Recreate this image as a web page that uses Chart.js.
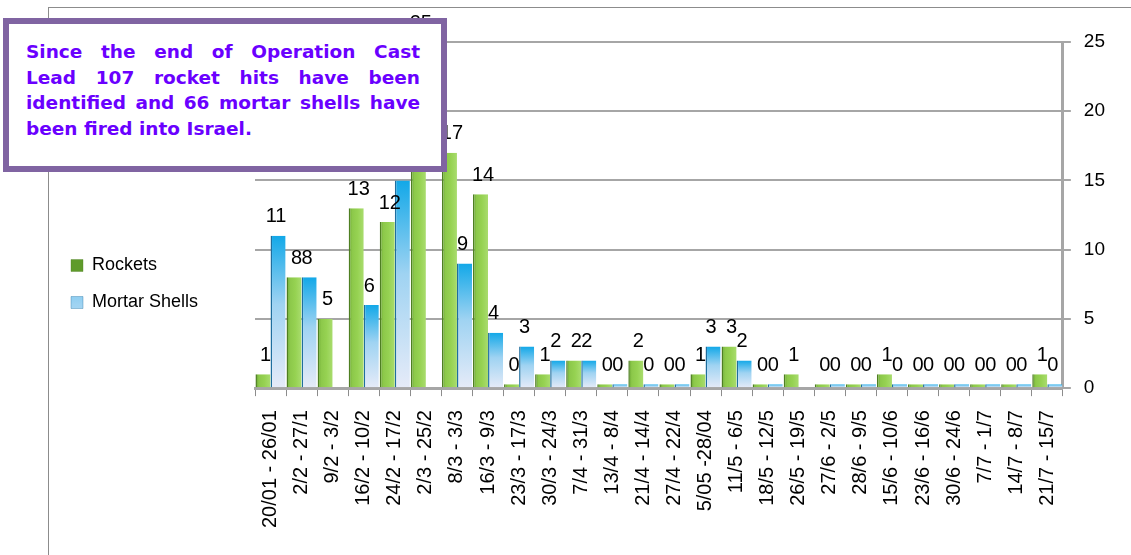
<!DOCTYPE html>
<html lang="en">
<head>
  <meta charset="UTF-8" />
  <title>Rockets and Mortar Shells</title>
  <script src="https://cdn.jsdelivr.net/npm/chart.js"></script>
  <style>
    body { margin: 0; background: #fff; }
    .wrap { position: relative; width: 1131px; height: 555px; overflow: hidden; }
    .frame { position: absolute; left: 48px; top: 7px; right: -2px; bottom: -2px;
             border-top: 1px solid #8c8c8c; border-left: 1px solid #8c8c8c; }
    .grafico { position: absolute; left: 0; top: 0; width: 1131px; height: 555px; }
    .nota { position: absolute; left: 3px; top: 18px; width: 444px; height: 154px; box-sizing: border-box;
            border: 6px solid #8064a2; background: #fff; padding: 15px 21px 0 17px;
            font-family: "DejaVu Sans", Verdana, sans-serif; font-weight: bold; font-size: 18.5px;
            line-height: 25.6px; color: #6a00ff; }
    .nota div { text-align: justify; text-align-last: justify; white-space: nowrap; }
    .nota div.ultima { text-align-last: left; }
  </style>
</head>
<body>
  <div class="wrap">
    <div class="frame"></div>
    <div class="grafico"><canvas id="graficoAtaques"></canvas></div>
    <div class="nota">
      <div>Since the end of Operation Cast</div>
      <div>Lead 107 rocket hits have been</div>
      <div>identified and 66 mortar shells have</div>
      <div class="ultima">been fired into Israel.</div>
    </div>
  </div>

<script>
  const semanas = [
    "20/01 - 26/01", "2/2 - 27/1", "9/2 - 3/2", "16/2 - 10/2", "24/2 - 17/2", "2/3 - 25/2",
    "8/3 - 3/3", "16/3 - 9/3", "23/3 - 17/3", "30/3 - 24/3", "7/4 - 31/3", "13/4 - 8/4",
    "21/4 - 14/4", "27/4 - 22/4", "5/05 -28/04", "11/5 - 6/5", "18/5 - 12/5", "26/5 - 19/5",
    "27/6 - 2/5", "28/6 - 9/5", "15/6 - 10/6", "23/6 - 16/6", "30/6 - 24/6", "7/7 - 1/7",
    "14/7 - 8/7", "21/7 - 15/7"
  ];
  const rockets = [1, 8, 5, 13, 12, 25, 17, 14, 0, 1, 2, 0, 2, 0, 1, 3, 0, 1, 0, 0, 1, 0, 0, 0, 0, 1];
  const mortars = [11, 8, null, 6, 15, null, 9, 4, 3, 2, 2, 0, 0, 0, 3, 2, 0, null, 0, 0, 0, 0, 0, 0, 0, 0];
  const yTicks = [0, 5, 10, 15, 20, 25];

  const fonte = "'Liberation Sans', Arial, sans-serif";

  // gradiente de cada barra, calculado pelas escalas
  function corBarra(context) {
    const chart = context.chart;
    const x = chart.scales.x, y = chart.scales.y;
    const verde = context.datasetIndex === 0;
    const plano = verde ? "#92d050" : "#62c4ef";
    if (!x || !y || context.dataIndex === undefined || context.raw == null) return plano;
    const cx = x.getPixelForValue(context.dataIndex);
    const meia = (x.getPixelForValue(1) - x.getPixelForValue(0)) / 2;
    const base = y.getPixelForValue(0);
    const topo = Math.min(y.getPixelForValue(context.raw), base - 4);
    if (![cx, meia, base, topo].every(Number.isFinite) || meia <= 0) return plano;
    const c = chart.ctx;
    if (verde) {
      const g = c.createLinearGradient(cx - meia, 0, cx, 0);
      g.addColorStop(0, "#5f9b2a");
      g.addColorStop(0.25, "#8cc84a");
      g.addColorStop(0.6, "#96d252");
      g.addColorStop(1, "#a9dc6e");
      return g;
    }
    const g = c.createLinearGradient(0, topo, 0, base);
    g.addColorStop(0, "#12a8e8");
    g.addColorStop(0.45, "#9fd3f2");
    g.addColorStop(1, "#e6ebf8");
    return g;
  }

  const rotulos = {
    id: "rotulos",
    afterDatasetsDraw(chart) {
      const ctx = chart.ctx;
      ctx.save();
      ctx.font = "20px " + fonte;
      ctx.fillStyle = "#000";
      ctx.textAlign = "center";
      ctx.textBaseline = "middle";
      chart.data.datasets.forEach((ds, i) => {
        const meta = chart.getDatasetMeta(i);
        const desvio = i === 0 ? 2.5 : -2;
        meta.data.forEach((barra, j) => {
          if (ds.data[j] == null) return;
          ctx.fillText(String(ds.data[j]), barra.x + desvio, barra.y - 19);
        });
      });
      ctx.restore();
    }
  };

  // legenda ocupa a faixa da esquerda inteira
  const legendaLarga = {
    id: "legendaLarga",
    beforeInit(chart) {
      const fitOriginal = chart.legend.fit;
      chart.legend.fit = function () {
        fitOriginal.call(this);
        this.width = 203;
      };
    },
    afterLayout(chart) {
      chart.legend.top -= 8;
      chart.legend.bottom -= 8;
    }
  };

  new Chart(document.getElementById("graficoAtaques"), {
    type: "bar",
    data: {
      labels: semanas,
      datasets: [
        { label: "Rockets", data: rockets, backgroundColor: corBarra,
          borderColor: "#4e7f22", borderWidth: { left: 1.5, top: 0, right: 0, bottom: 0 } },
        { label: "Mortar Shells", data: mortars, backgroundColor: corBarra,
          borderColor: "#1f6e9e", borderWidth: { left: 1.5, top: 0, right: 0, bottom: 0 } }
      ]
    },
    options: {
      responsive: true,
      maintainAspectRatio: false,
      animation: false,
      layout: { padding: { left: 52, top: 42, right: 13, bottom: 13 } },
      datasets: { bar: { categoryPercentage: 0.97, barPercentage: 1, minBarLength: 4, borderSkipped: false } },
      plugins: {
        legend: {
          position: "left",
          align: "center",
          labels: { boxWidth: 12, boxHeight: 12, padding: 19, color: "#000", font: { size: 18, family: fonte } }
        },
        tooltip: { enabled: false }
      },
      scales: {
        x: {
          grid: { display: true, drawOnChartArea: false, offset: true, tickLength: 8, color: "#8c8c8c", lineWidth: 1 },
          border: { display: true, color: "#a6a6a6", width: 3 },
          ticks: { autoSkip: false, minRotation: 90, maxRotation: 90, padding: 14, color: "#000",
                   font: { size: 20, family: fonte } }
        },
        y: {
          position: "right",
          min: 0,
          max: yTicks[yTicks.length - 1],
          afterBuildTicks: axis => { axis.ticks = yTicks.map(v => ({ value: v })); },
          grid: { color: "#a6a6a6", lineWidth: 2, tickLength: 8 },
          border: { display: true, color: "#a6a6a6", width: 3 },
          ticks: { padding: 13, color: "#000", font: { size: 19, family: fonte } }
        }
      }
    },
    plugins: [rotulos, legendaLarga]
  });
</script>
</body>
</html>
